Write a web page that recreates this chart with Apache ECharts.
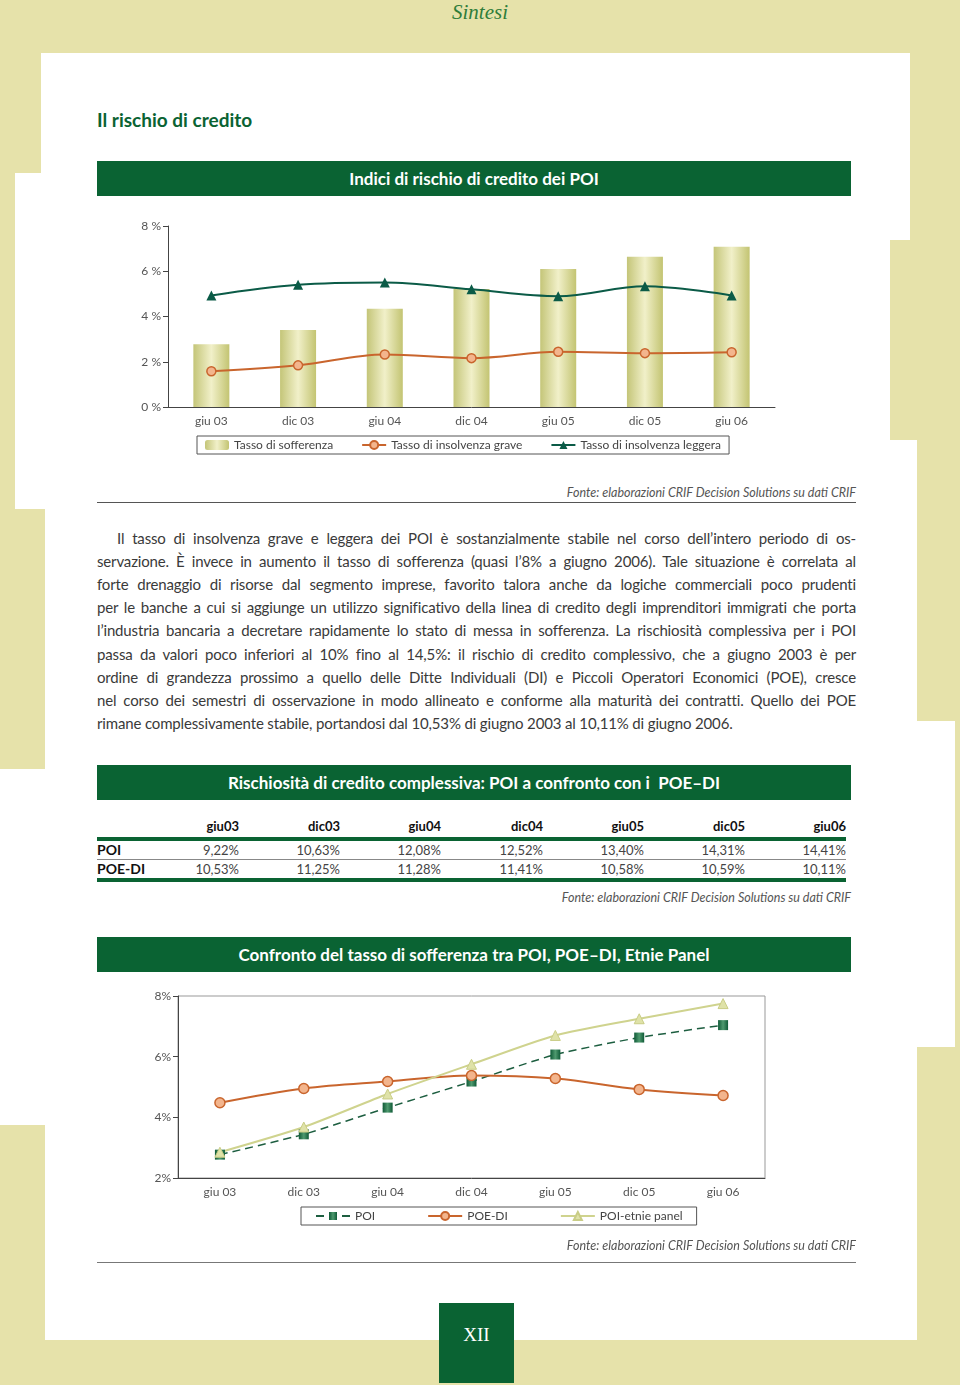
<!DOCTYPE html>
<html>
<head>
<meta charset="utf-8">
<script src="https://cdn.jsdelivr.net/npm/echarts@6/dist/echarts.min.js"></script>
<style>
  html, body { margin: 0; padding: 0; }
  body { width: 960px; height: 1385px; position: relative; background: #e6e2aa; overflow: hidden; font-family: Lato, "Open Sans", sans-serif; }
  .abs { position: absolute; }
  #paper { left: 0; top: 0; width: 960px; height: 1385px; background: #fff;
    clip-path: polygon(41px 53px, 910px 53px, 910px 240px, 890px 240px, 890px 440px, 917px 440px, 917px 721px, 955px 721px, 955px 1047px, 917px 1047px, 917px 1340px, 45px 1340px, 45px 1125px, 0px 1125px, 0px 769px, 45px 769px, 45px 509px, 15px 509px, 15px 173px, 41px 173px); }
  .band { left: 97px; width: 754px; height: 35px; line-height: 35px; background: #0a6333; color: #fff; text-align: center; font-weight: bold; font-size: 17px; }
  .fonte { font-style: italic; font-size: 12.5px; color: #555; text-align: right; white-space: nowrap; }
  .para { left: 97px; width: 759px; font-size: 15px; color: #3a3a3a; height: 23px; line-height: 23px; white-space: nowrap; text-align: justify; text-align-last: justify; letter-spacing: -0.15px; }
  .para.last { text-align-last: left; }
  .cell { font-size: 13px; height: 18px; line-height: 18px; white-space: nowrap; }
</style>
</head>
<body>
<div id="paper" class="abs"></div>

<div class="abs" style="left:0;width:960px;top:0;height:24px;line-height:24px;text-align:center;font-family:'Liberation Serif',serif;font-style:italic;font-size:21px;color:#2f7d3a;">Sintesi</div>

<div class="abs" style="left:97px;top:108px;font-size:19px;font-weight:bold;color:#0a6333;">Il rischio di credito</div>

<div class="abs band" style="top:161px;">Indici di rischio di credito dei POI</div>
<div id="chart1" class="abs" style="left:0;top:200px;width:960px;height:270px;"></div>
<div class="abs fonte" style="right:104px;top:485px;">Fonte: elaborazioni CRIF Decision Solutions su dati CRIF</div>
<div class="abs" style="left:97px;top:502px;width:759px;height:1px;background:#555;"></div>

<div class="abs para" style="top:527px;text-indent:20px;">Il tasso di insolvenza grave e leggera dei POI è sostanzialmente stabile nel corso dell’intero periodo di os-</div>
<div class="abs para" style="top:550px;">servazione. È invece in aumento il tasso di sofferenza (quasi l’8% a giugno 2006). Tale situazione è correlata al</div>
<div class="abs para" style="top:573px;">forte drenaggio di risorse dal segmento imprese, favorito talora anche da logiche commerciali poco prudenti</div>
<div class="abs para" style="top:596px;">per le banche a cui si aggiunge un utilizzo significativo della linea di credito degli imprenditori immigrati che porta</div>
<div class="abs para" style="top:619px;">l’industria bancaria a decretare rapidamente lo stato di messa in sofferenza. La rischiosità complessiva per i POI</div>
<div class="abs para" style="top:643px;">passa da valori poco inferiori al 10% fino al 14,5%: il rischio di credito complessivo, che a giugno 2003 è per</div>
<div class="abs para" style="top:666px;">ordine di grandezza prossimo a quello delle Ditte Individuali (DI) e Piccoli Operatori Economici (POE), cresce</div>
<div class="abs para" style="top:689px;">nel corso dei semestri di osservazione in modo allineato e conforme alla maturità dei contratti. Quello dei POE</div>
<div class="abs para last" style="top:712px;">rimane complessivamente stabile, portandosi dal 10,53% di giugno 2003 al 10,11% di giugno 2006.</div>

<div class="abs band" style="top:765px;">Rischiosità di credito complessiva: POI a confronto con i&nbsp; POE–DI</div>
<div id="table" class="abs" style="left:0;top:0;width:960px;height:1px;"></div>
<div class="abs fonte" style="right:109px;top:890px;">Fonte: elaborazioni CRIF Decision Solutions su dati CRIF</div>

<div class="abs band" style="top:937px;">Confronto del tasso di sofferenza tra POI, POE–DI, Etnie Panel</div>
<div id="chart2" class="abs" style="left:0;top:980px;width:960px;height:260px;"></div>
<div class="abs fonte" style="right:104px;top:1238px;">Fonte: elaborazioni CRIF Decision Solutions su dati CRIF</div>
<div class="abs" style="left:97px;top:1262px;width:759px;height:1px;background:#777;"></div>

<div class="abs" style="left:439px;top:1303px;width:75px;height:80px;background:#0a6333;"></div>
<div class="abs" style="left:439px;width:75px;top:1322px;line-height:26px;text-align:center;font-family:'Liberation Serif',serif;font-size:19px;color:#fff;">XII</div>

<script>
// dati grafico 1 (valori in %)
const categories = ['giu 03', 'dic 03', 'giu 04', 'dic 04', 'giu 05', 'dic 05', 'giu 06'];
const sofferenza = [2.77, 3.40, 4.34, 5.22, 6.10, 6.64, 7.08];
const insolvenzaGrave = [1.58, 1.84, 2.32, 2.16, 2.44, 2.38, 2.42];
const insolvenzaLeggera = [4.93, 5.40, 5.50, 5.20, 4.90, 5.34, 4.93];

// dati tabella
const tableCols = ['giu03', 'dic03', 'giu04', 'dic04', 'giu05', 'dic05', 'giu06'];
const tableRows = ['POI', 'POE-DI'];
const tablePoi = ['9,22%', '10,63%', '12,08%', '12,52%', '13,40%', '14,31%', '14,41%'];
const tablePoeDi = ['10,53%', '11,25%', '11,28%', '11,41%', '10,58%', '10,59%', '10,11%'];

// dati grafico 2 (tasso di sofferenza, %)
const poi = [2.77, 3.44, 4.32, 5.18, 6.07, 6.63, 7.04];
const poeDi = [4.48, 4.95, 5.18, 5.38, 5.28, 4.92, 4.72];
const poiEtnie = [2.85, 3.68, 4.77, 5.75, 6.70, 7.25, 7.75];

const green = '#0a6333';
const orange = '#c9652d';
const grayTxt = '#555';

// tabella
const tbl = document.getElementById('table');
const colRight = [239, 340, 441, 543, 644, 745, 846];
function cell(txt, left, right, top, style) {
  const d = document.createElement('div');
  d.className = 'abs cell';
  d.textContent = txt;
  d.style.top = top + 'px';
  if (right != null) { d.style.right = (960 - right) + 'px'; d.style.textAlign = 'right'; }
  else d.style.left = left + 'px';
  Object.assign(d.style, style || {});
  tbl.appendChild(d);
}
tableCols.forEach((c, i) => cell(c, null, colRight[i], 817, {fontWeight: 'bold', color: '#111'}));
[[tablePoi, 841], [tablePoeDi, 860]].forEach(([vals, y], r) => {
  cell(tableRows[r], 97, null, y, {fontWeight: 'bold', color: '#111', fontSize: '14px'});
  vals.forEach((v, i) => cell(v, null, colRight[i], y, {color: '#444'}));
});
function rule(top, h, color) {
  const d = document.createElement('div');
  d.className = 'abs';
  Object.assign(d.style, {left: '97px', width: '749px', top: top + 'px', height: h + 'px', background: color});
  tbl.appendChild(d);
}
rule(837, 4, green);
rule(859, 1, '#888');
rule(878, 4, green);

const axisText = {color: grayTxt, fontSize: 12, fontFamily: 'Lato'};

// grafico 1
const chart1 = echarts.init(document.getElementById('chart1'));
chart1.setOption({
  animation: false,
  grid: {left: 168, right: 185, top: 26, bottom: 63},
  legend: {
    left: 197, top: 236, padding: [3, 8], itemGap: 28, itemWidth: 24, itemHeight: 10,
    borderColor: '#555', borderWidth: 1,
    textStyle: {color: '#444', fontSize: 12, fontFamily: 'Lato'},
    data: ['Tasso di sofferenza', 'Tasso di insolvenza grave', 'Tasso di insolvenza leggera']
  },
  xAxis: {
    type: 'category', data: categories,
    axisLine: {lineStyle: {color: '#444'}},
    axisTick: {length: 5, lineStyle: {color: '#444'}},
    axisLabel: Object.assign({margin: 8}, axisText)
  },
  yAxis: {
    type: 'value', min: 0, max: 8, interval: 2,
    axisLine: {show: true, lineStyle: {color: '#444'}},
    axisTick: {show: true, length: 5, lineStyle: {color: '#444'}},
    splitLine: {show: false},
    axisLabel: Object.assign({formatter: '{value} %', margin: 7}, axisText)
  },
  series: [
    {
      name: 'Tasso di sofferenza', type: 'bar', barWidth: 36, data: sofferenza,
      itemStyle: {color: new echarts.graphic.LinearGradient(0, 0, 1, 0, [
        {offset: 0, color: '#c4c578'}, {offset: 0.5, color: '#f1f0c9'}, {offset: 1, color: '#c3c472'}
      ])}
    },
    {
      name: 'Tasso di insolvenza grave', type: 'line', smooth: 0.35, data: insolvenzaGrave,
      symbol: 'circle', symbolSize: 9,
      lineStyle: {color: orange, width: 2},
      itemStyle: {color: '#f3b58d', borderColor: orange, borderWidth: 1.5}
    },
    {
      name: 'Tasso di insolvenza leggera', type: 'line', smooth: 0.35, data: insolvenzaLeggera,
      symbol: 'triangle', symbolSize: 10,
      lineStyle: {color: '#0b5b47', width: 2},
      itemStyle: {color: '#0b5b47'}
    }
  ]
});

// grafico 2
const chart2 = echarts.init(document.getElementById('chart2'));
chart2.setOption({
  animation: false,
  grid: {left: 178, right: 195, top: 16, bottom: 62, show: true, borderColor: '#999', borderWidth: 1},
  legend: {
    left: 301, top: 227, padding: [3, 14], itemGap: 52, itemWidth: 34, itemHeight: 10,
    borderColor: '#555', borderWidth: 1,
    textStyle: {color: '#444', fontSize: 12, fontFamily: 'Lato'},
    data: ['POI', 'POE-DI', 'POI-etnie panel']
  },
  xAxis: {
    type: 'category', data: categories,
    axisLine: {lineStyle: {color: '#444'}},
    axisTick: {length: 5, lineStyle: {color: '#444'}},
    axisLabel: Object.assign({margin: 8}, axisText)
  },
  yAxis: {
    type: 'value', min: 2, max: 8, interval: 2,
    axisLine: {show: true, lineStyle: {color: '#444'}},
    axisTick: {show: true, length: 5, lineStyle: {color: '#444'}},
    splitLine: {show: false},
    axisLabel: Object.assign({formatter: '{value}%', margin: 7}, axisText)
  },
  series: [
    {
      name: 'POI', type: 'line', data: poi, symbol: 'rect', symbolSize: 10, smooth: 0.2,
      lineStyle: {color: '#1d5e40', width: 1.5, type: [8, 5]},
      itemStyle: {color: new echarts.graphic.LinearGradient(0, 0, 1, 0, [
        {offset: 0, color: '#0f5a37'}, {offset: 0.5, color: '#4f9a6f'}, {offset: 1, color: '#0f5a37'}
      ])}
    },
    {
      name: 'POE-DI', type: 'line', data: poeDi, symbol: 'circle', symbolSize: 10, smooth: 0.35,
      lineStyle: {color: orange, width: 2},
      itemStyle: {color: '#f3b58d', borderColor: orange, borderWidth: 1.5}
    },
    {
      name: 'POI-etnie panel', type: 'line', data: poiEtnie, symbol: 'triangle', symbolSize: 10, smooth: 0.25,
      lineStyle: {color: '#cfd38e', width: 2},
      itemStyle: {color: '#dfe2a8', borderColor: '#c9cd86', borderWidth: 1}
    }
  ]
});
</script>
</body>
</html>
